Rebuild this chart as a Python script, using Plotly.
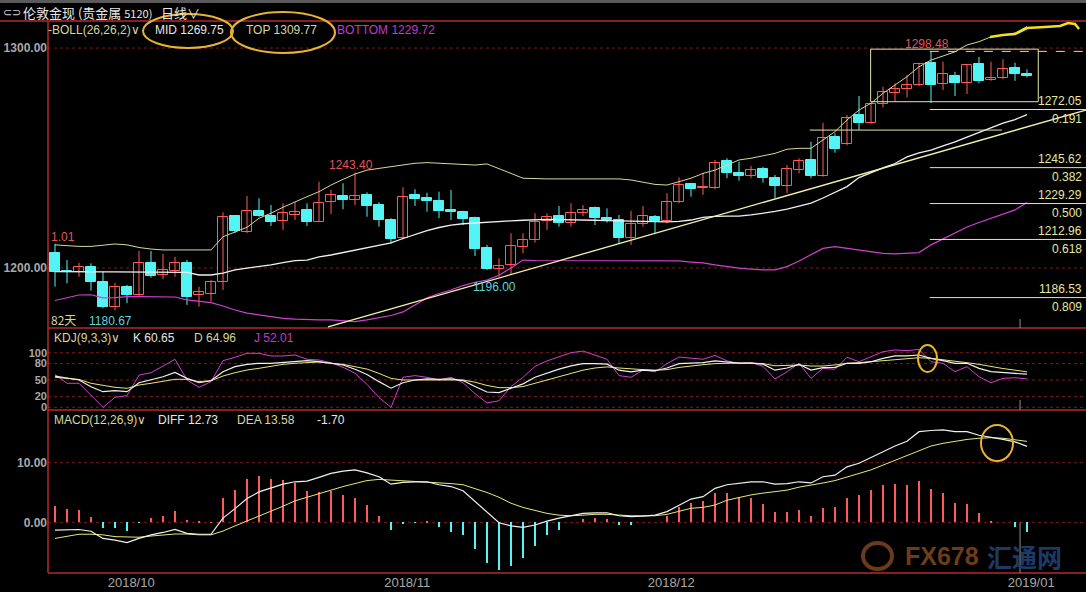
import plotly.graph_objects as go

# ---------------- data ----------------
open_ = [1206.7,1198.5,1198.3,1200.3,1193.5,1182.1,1191.5,1187.7,1202.1,1196.8,
         1198.8,1202.1,1187.7,1188.2,1193.5,1223.6,1216.5,1225.9,1223.8,1221.4,
         1224.1,1226.4,1220.8,1229.9,1232.7,1230.9,1233.2,1228.6,1221.8,1213.5,
         1233.2,1231.7,1230.6,1226.4,1225.6,1222.6,1209.2,1199.4,1201.4,1209.7,
         1212.7,1221.5,1223.6,1220.6,1224.9,1227.1,1222.9,1221.8,1213.8,1219.9,
         1223.3,1221.5,1230.1,1238.2,1236.5,1236.5,1248.6,1243.0,1241.8,1245.0,
         1240.8,1237.4,1244.5,1249.1,1242.0,1259.4,1256.2,1269.5,1265.8,1274.5,
         1279.4,1281.2,1283.2,1293.3,1283.5,1287.3,1284.0,1292.7,1285.5,1286.2,
         1290.8,1288.2]
high = [1211.0,1203.6,1202.4,1202.1,1198.3,1193.3,1192.3,1207.7,1207.7,1206.4,
        1205.1,1203.6,1191.5,1194.5,1225.3,1224.1,1232.7,1231.7,1228.6,1229.4,
        1230.1,1229.4,1239.2,1235.5,1238.5,1243.4,1234.4,1229.9,1222.6,1236.7,
        1235.8,1234.2,1234.7,1235.5,1226.0,1223.3,1210.5,1204.4,1215.8,1215.8,
        1224.9,1224.9,1228.2,1229.4,1228.6,1227.9,1227.1,1224.1,1226.0,1228.2,
        1224.1,1234.0,1241.2,1238.5,1243.3,1249.1,1249.9,1248.3,1246.4,1246.0,
        1242.3,1246.8,1249.9,1257.4,1266.0,1261.2,1269.5,1278.2,1274.9,1282.4,
        1283.9,1287.7,1293.3,1298.48,1293.8,1289.2,1292.3,1296.0,1293.8,1294.9,
        1293.3,1290.3]
low = [1191.5,1193.0,1196.0,1189.7,1181.7,1180.67,1184.0,1187.0,1195.6,1194.9,
       1196.0,1183.2,1182.4,1184.7,1190.0,1215.8,1215.8,1223.3,1219.1,1217.3,
       1221.8,1219.1,1220.8,1224.5,1226.7,1228.6,1223.3,1218.8,1211.2,1213.0,
       1228.2,1225.6,1222.6,1221.8,1219.5,1205.5,1199.1,1196.0,1196.8,1206.7,
       1211.5,1217.3,1218.8,1218.8,1223.6,1219.5,1220.6,1211.2,1210.5,1218.8,
       1215.8,1220.3,1229.4,1232.4,1233.2,1235.8,1240.8,1239.7,1240.8,1238.8,
       1231.7,1234.0,1243.0,1240.8,1241.5,1252.4,1255.8,1262.7,1265.5,1273.0,
       1275.6,1277.6,1282.7,1275.1,1280.9,1278.2,1279.1,1284.0,1285.1,1285.8,
       1285.1,1286.7]
close = [1198.3,1198.0,1200.6,1193.5,1182.1,1191.5,1187.7,1202.1,1196.4,1199.1,
         1202.1,1187.0,1189.0,1193.8,1223.3,1217.0,1225.9,1223.8,1221.0,1224.9,
         1225.6,1221.0,1229.4,1233.2,1230.9,1232.7,1228.2,1221.8,1213.2,1232.1,
         1231.4,1230.6,1226.0,1225.6,1222.3,1208.6,1199.5,1201.0,1210.1,1212.7,
         1221.0,1223.0,1220.6,1224.9,1226.4,1222.6,1221.8,1213.8,1220.0,1223.6,
         1221.4,1229.9,1237.7,1235.9,1236.9,1247.6,1243.3,1241.8,1244.5,1240.8,
         1237.4,1244.9,1248.6,1241.8,1259.0,1254.1,1268.0,1265.8,1274.5,1280.1,
         1281.4,1283.2,1292.7,1283.2,1288.2,1284.0,1292.3,1285.1,1286.2,1290.3,
         1288.0,1287.4]

boll_top = [1210.5,1210.0,1209.8,1209.8,1210.2,1210.9,1210.5,1209.3,1208.6,1208.2,
            1208.2,1208.2,1208.2,1208.2,1214.2,1216.5,1218.5,1222.6,1224.9,1227.6,
            1230.1,1232.4,1234.7,1237.7,1240.3,1242.7,1244.5,1245.3,1246.0,1246.8,
            1247.6,1247.9,1247.6,1247.3,1246.8,1246.8,1247.3,1245.3,1243.0,1240.8,
            1240.5,1240.5,1240.5,1240.5,1240.5,1240.5,1240.5,1240.5,1240.0,1239.0,
            1238.0,1237.7,1239.2,1240.8,1243.0,1244.5,1246.8,1249.1,1249.9,1251.0,
            1252.1,1254.0,1254.4,1254.4,1258.2,1262.0,1267.3,1271.8,1274.9,1279.4,
            1283.2,1287.0,1291.5,1294.5,1296.4,1298.3,1301.4,1302.9,1305.1,1305.9,
            1306.8,1309.77]
boll_mid = [1198.3,1198.2,1198.2,1198.2,1198.2,1198.2,1198.2,1198.2,1198.2,1198.2,
            1198.0,1198.0,1196.8,1196.8,1197.7,1199.1,1199.9,1200.6,1201.4,1202.4,
            1203.3,1203.6,1205.0,1205.9,1207.0,1208.0,1209.1,1210.2,1211.4,1213.4,
            1215.2,1217.0,1218.4,1219.5,1220.1,1220.5,1220.8,1221.1,1221.4,1221.7,
            1222.0,1222.1,1222.0,1222.0,1221.8,1221.7,1221.5,1221.4,1221.1,1220.9,
            1220.9,1221.0,1221.2,1221.8,1223.0,1223.5,1223.6,1223.6,1224.1,1224.8,
            1225.7,1226.8,1228.2,1229.5,1231.8,1234.5,1237.0,1241.1,1243.4,1245.5,
            1247.5,1250.5,1252.3,1253.6,1255.5,1257.3,1259.5,1261.6,1263.9,1265.9,
            1267.5,1269.75]
boll_bot = [1185.2,1186.6,1187.7,1187.8,1186.4,1186.5,1187.0,1187.0,1187.0,1187.0,
            1186.8,1185.5,1184.7,1184.2,1182.7,1180.9,1179.5,1178.6,1177.9,1177.1,
            1176.7,1176.4,1176.4,1176.4,1175.9,1175.6,1176.4,1177.5,1178.4,1180.0,
            1183.4,1186.4,1188.4,1190.0,1192.0,1193.5,1194.5,1196.7,1200.0,1203.6,
            1203.4,1203.4,1203.4,1203.4,1203.4,1203.4,1203.4,1203.4,1203.4,1203.4,
            1203.4,1203.4,1203.2,1202.7,1202.3,1201.4,1200.6,1199.9,1199.5,1199.1,
            1199.1,1200.6,1203.2,1206.1,1208.9,1209.7,1208.9,1208.0,1207.3,1206.6,
            1206.4,1206.6,1207.0,1210.5,1213.2,1215.9,1218.6,1220.7,1222.5,1224.3,
            1226.4,1229.72]

kdj_k = [57,53,50,37.7,28.6,30.4,28.6,45,50,56,64,53,45,48.7,65.2,74.4,78.7,80.6,80.6,82.4,
         84.8,85.4,83.5,80.6,77.5,69.6,60,47,35,45,50,52,51,52,49,38,28,27,35,43,
         55,63,70,76,80,80,79,68,65,68,67,72,80,81,82,85,83,81,81,79,
         68,72,78.7,68.3,72.5,73.3,80.6,80.6,83.5,89.7,94,94,95.8,89.7,85.4,80.6,80.6,71.4,65.2,63,
         62,60.65]
kdj_d = [55,53,51,44,40.8,36.6,34.8,40.8,44,47,51.3,51.3,47,48.7,57.3,63.4,68.3,71.4,75.6,78.7,
         80.6,82.4,83,80.6,78.7,74.4,70,62,53,50,50,51,51,51,50,46,40,36,36,38,
         44,50,57,63,68,72,74,72,70,69,68,69,73,76,78,80,81,81,81,80,
         76,76.5,77.5,75.6,75.6,77.5,80.6,81.7,83.5,85.4,87.9,89,90.8,89.7,86.6,83.5,81.7,78.7,74.4,71,
         68,64.96]
kdj_j = [60,44,44,22.5,0,18.3,21.3,59,63.4,75.6,88,50,36.6,47,85.4,91.6,98.9,98.9,94,94,
         95.8,88,86.6,81.7,73.3,62.3,42,18,0,55,58,55,50,55,45,25,8,12,38,55,
         75,85,92,100,103,95,88,58,55,68,65,80,92,90,88,95,85,80,82,75,
         52,65,80.6,53,71.4,69.6,91.6,83.5,92.7,101.8,105,103.7,106,83.5,80.6,65.2,74.4,56,45,53,
         54.2,52.01]

macd_diff = [-1.3,-1.25,-1.2,-1.5,-2.7,-3.0,-3.4,-2.7,-2.1,-1.7,-1.2,-1.85,-2.0,-2.0,0.7,2.3,4.0,5.1,5.7,6.4,
             6.8,6.9,7.55,8.2,8.6,8.8,8.3,7.65,6.4,6.7,6.8,6.8,6.3,6.0,5.3,3.5,1.8,-0.07,-0.6,-0.85,
             -0.45,0.2,0.7,1.1,1.5,1.6,1.6,1.1,0.95,1.05,1.2,1.8,2.9,3.9,4.3,5.7,6.3,6.5,6.8,6.8,
             6.4,6.5,6.8,6.6,7.65,7.9,9.3,9.9,10.9,11.85,12.8,13.6,15.2,15.4,15.5,15.2,15.2,14.6,14.3,13.9,
             13.5,12.73]
macd_dea = [-2.7,-2.3,-2.0,-2.0,-2.1,-2.4,-2.5,-2.5,-2.3,-2.1,-1.96,-1.96,-2.1,-2.1,-1.46,-0.6,0.2,1.06,1.9,2.7,
            3.6,4.2,4.9,5.4,6.0,6.5,7.0,7.2,7.1,6.9,6.85,6.8,6.65,6.5,6.3,5.7,5.0,4.2,3.2,2.5,
            2.06,1.5,1.2,1.1,1.2,1.34,1.34,1.2,1.1,1.1,1.1,1.34,1.8,2.35,2.5,2.9,3.7,4.2,4.6,4.9,
            5.1,5.4,5.9,6.2,6.6,7.0,7.65,8.2,8.8,9.6,10.45,11.3,12.1,12.8,13.25,13.6,13.9,14.1,14.2,14.1,
            13.9,13.58]
macd_hist = [2.7,2.2,2.1,0.95,-1.0,-1.0,-1.4,-0.1,0.7,1.1,1.9,0.4,0.1,0.05,4.0,5.5,7.3,7.8,7.3,7.1,
             6.6,5.3,5.1,5.3,4.6,4.1,2.9,1.06,-1.3,-0.2,-0.1,0.1,-0.7,-1.6,-2.1,-4.5,-6.9,-8.0,-7.3,-6.0,
             -4.0,-2.1,-1.3,0.0,0.55,0.65,0.5,-0.45,-0.45,0.0,0.0,1.06,2.5,3.3,3.6,5.0,5.0,4.3,4.0,3.1,
             1.8,1.8,2.0,1.1,2.45,2.6,4.1,4.5,5.4,6.3,6.4,6.3,7.0,5.6,4.9,3.3,3.0,1.5,0.1,0.0,
             -0.7,-1.7]

month_ticks = [6, 29, 51, 81]
month_labels = ["2018/10", "2018/11", "2018/12", "2019/01"]

fib_values = [1272.05, 1245.62, 1229.29, 1212.96, 1186.53]
fib_ratios = ["0.191", "0.382", "0.500", "0.618", "0.809"]
fib_top = 1298.48
trend_start = (22.75, 1173.2)
trend_end = (85.9, 1271.8)

# ---------------- styling ----------------
BG = "#000000"
UP = "#ff5a5a"
DN = "#54f4f4"
RED_LINE = "#b4282d"
GRID = "#7a1c1c"
PALE = "#e6e6a4"
WHITE = "#f0f0f0"
MAG = "#d040d0"
YEL = "#e8e878"
LBL = "#a8a8a8"
FONT = "Liberation Sans, Arial, sans-serif"
CJK = "Noto Sans CJK SC, sans-serif"

n = len(close)
idx = list(range(n))

fig = go.Figure()

# wicks
for col, cond in ((UP, True), (DN, False)):
    wx, wy = [], []
    for i in idx:
        if (close[i] >= open_[i]) == cond:
            wx += [i, i, None]
            wy += [low[i], high[i], None]
    fig.add_trace(go.Scatter(x=wx, y=wy, mode="lines", line=dict(color=col, width=1),
                             hoverinfo="skip", yaxis="y"))

# bodies
up_i = [i for i in idx if close[i] >= open_[i]]
dn_i = [i for i in idx if close[i] < open_[i]]
fig.add_trace(go.Bar(x=up_i, base=[min(open_[i], close[i]) for i in up_i],
                     y=[max(abs(close[i] - open_[i]), 0.3) for i in up_i],
                     width=0.8, marker=dict(color=BG, line=dict(color=UP, width=1)),
                     yaxis="y", hoverinfo="skip"))
fig.add_trace(go.Bar(x=dn_i, base=[min(open_[i], close[i]) for i in dn_i],
                     y=[max(abs(close[i] - open_[i]), 0.3) for i in dn_i],
                     width=0.8, marker=dict(color=DN, line=dict(color=DN, width=1)),
                     yaxis="y", hoverinfo="skip"))

# Bollinger bands
fig.add_trace(go.Scatter(x=idx, y=boll_top, mode="lines", line=dict(color="#d8d89a", width=1), yaxis="y"))
fig.add_trace(go.Scatter(x=idx, y=boll_mid, mode="lines", line=dict(color=WHITE, width=1.3), yaxis="y"))
fig.add_trace(go.Scatter(x=idx, y=boll_bot, mode="lines", line=dict(color=MAG, width=1.2), yaxis="y"))

# trend line
fig.add_trace(go.Scatter(x=[trend_start[0], trend_end[0]], y=[trend_start[1], trend_end[1]],
                         mode="lines", line=dict(color="#f4f4b0", width=1.3), yaxis="y"))

# KDJ
fig.add_trace(go.Scatter(x=idx, y=kdj_j, mode="lines", line=dict(color=MAG, width=1), yaxis="y2"))
fig.add_trace(go.Scatter(x=idx, y=kdj_d, mode="lines", line=dict(color=YEL, width=1), yaxis="y2"))
fig.add_trace(go.Scatter(x=idx, y=kdj_k, mode="lines", line=dict(color=WHITE, width=1.2), yaxis="y2"))

# MACD
fig.add_trace(go.Bar(x=idx, y=macd_hist, width=0.16,
                     marker=dict(color=[UP if v >= 0 else DN for v in macd_hist], line=dict(width=0)),
                     yaxis="y3", hoverinfo="skip"))
fig.add_trace(go.Scatter(x=idx, y=macd_dea, mode="lines", line=dict(color=YEL, width=1), yaxis="y3"))
fig.add_trace(go.Scatter(x=idx, y=macd_diff, mode="lines", line=dict(color=WHITE, width=1.2), yaxis="y3"))

# ---------------- layout ----------------
D_MAIN = [0.44384, 1.0]
D_KDJ = [0.29529, 0.44384]
D_MACD = [0.0, 0.29529]
XR = [-0.583, 85.917]

shapes = []
def pline(x0, y0, x1, y1, color, width=1, dash="solid", xref="paper", yref="paper"):
    shapes.append(dict(type="line", xref=xref, yref=yref, x0=x0, y0=y0, x1=x1, y1=y1,
                       line=dict(color=color, width=width, dash=dash), layer="below"))

# grids
for v in (1200, 1300):
    pline(0, v, 1, v, GRID, 1, "dot", "paper", "y")
for v in (0, 20, 50, 80, 100):
    pline(0, v, 1, v, GRID, 1, "dot", "paper", "y2")
for v in (0, 10):
    pline(0, v, 1, v, GRID, 1, "dot", "paper", "y3")

# panel borders
pline(-0.0462, 1, 1, 1, RED_LINE, 1.5)
for yy in (D_KDJ[1], D_MACD[1], 0):
    pline(0, yy, 1, yy, RED_LINE, 1.5)
pline(0, 0, 0, 1, RED_LINE, 1.5)
# top gray strip
shapes.append(dict(type="rect", xref="paper", yref="paper", x0=-0.0462, x1=1, y0=1.0326, y1=1.04,
                   fillcolor="#5a5a5a", line=dict(width=0), layer="below"))

# Fibonacci levels
fib_x0 = 72.9
for v in fib_values:
    shapes.append(dict(type="line", xref="x", yref="y", x0=fib_x0, x1=XR[1], y0=v, y1=v,
                       line=dict(color=PALE, width=1)))
shapes.append(dict(type="line", xref="x", yref="y", x0=fib_x0, x1=XR[1], y0=fib_top, y1=fib_top,
                   line=dict(color="#d8d8c8", width=1, dash="dash")))
# box around consolidation
shapes.append(dict(type="rect", xref="x", yref="y", x0=67.97, x1=81.94, y0=1275.6, y1=1299.5,
                   line=dict(color=PALE, width=1)))
# short horizontal line
shapes.append(dict(type="line", xref="x", yref="y", x0=62.9, x1=78.9, y0=1262.7, y1=1262.7,
                   line=dict(color=PALE, width=1)))

def px_x(p): return (p - 48) / 1038
def px_y(p): return (573 - p) / 552

# highlighted top band (hand drawn)
pts = [(990, 37), (1003, 35), (1015, 34), (1027, 28), (1045, 27), (1060, 26), (1068, 23), (1075, 24), (1079, 29)]
path = ""
for k, (px, py) in enumerate(pts):
    path += ("M" if k == 0 else "L") + f"{px_x(px):.4f},{px_y(py):.4f} "
shapes.append(dict(type="path", xref="paper", yref="paper", path=path,
                   line=dict(color="#f0e020", width=2.5)))

# gray markers at x=1020
mx = 80.42
shapes.append(dict(type="line", xref="x", yref="y", x0=mx, x1=mx, y0=1172.7, y1=1176.8, line=dict(color="#909090", width=1)))
shapes.append(dict(type="line", xref="x", yref="y2", x0=mx, x1=mx, y0=-4.9, y1=13.4, line=dict(color="#909090", width=1)))
shapes.append(dict(type="line", xref="x", yref="y3", x0=mx, x1=mx, y0=-8.5, y1=0.0, line=dict(color="#909090", width=1)))

# ellipses (hand drawn highlights)
GOLD = "#e8b232"
shapes.append(dict(type="circle", xref="paper", yref="paper", x0=px_x(143), x1=px_x(233), y0=px_y(48), y1=px_y(14),
                   line=dict(color=GOLD, width=2)))
shapes.append(dict(type="circle", xref="paper", yref="paper", x0=px_x(231), x1=px_x(335), y0=px_y(53), y1=px_y(12),
                   line=dict(color=GOLD, width=2)))
shapes.append(dict(type="circle", xref="paper", yref="paper", x0=px_x(918), x1=px_x(937), y0=px_y(372), y1=px_y(345),
                   line=dict(color=GOLD, width=2)))
shapes.append(dict(type="circle", xref="paper", yref="paper", x0=px_x(981), x1=px_x(1013), y0=px_y(461), y1=px_y(425),
                   line=dict(color=GOLD, width=2)))
# watermark logo
shapes.append(dict(type="circle", xref="paper", yref="paper", x0=px_x(863), x1=px_x(892), y0=px_y(569), y1=px_y(543),
                   line=dict(color="#6a3a1a", width=4)))

ann = []
def text(x, y, s, color, size=12, xref="paper", yref="paper", xanchor="left", yanchor="middle", family=FONT, bold=False):
    ann.append(dict(x=x, y=y, xref=xref, yref=yref, text=(f"<b>{s}</b>" if bold else s), showarrow=False,
                    xanchor=xanchor, yanchor=yanchor, font=dict(color=color, size=size, family=family),
                    borderpad=0))

# title bar
text(px_x(2), px_y(12), "⊂⊃", "#d0d0d0", 11)
text(px_x(22), px_y(12), "伦敦金现 (贵金属 <span style='font-size:11px'>5120)</span>", "#e8e8e8", 13, family=CJK)
text(px_x(160), px_y(12), "日线∨", "#e8e8e8", 13, family=CJK)

# headers
text(px_x(47), px_y(30), "-BOLL(26,26,2)∨", "#d6d6a0", 12)
text(px_x(154), px_y(30), "MID 1269.75", "#e6e6e6", 12)
text(px_x(245), px_y(30), "TOP 1309.77", "#d6d6a0", 12)
text(px_x(336), px_y(30), "BOTTOM 1229.72", "#c838c8", 12)

text(px_x(53), px_y(338), "KDJ(9,3,3)∨", "#d6d6a0", 12)
text(px_x(132), px_y(338), "K 60.65", "#e6e6e6", 12)
text(px_x(193), px_y(338), "D 64.96", "#d6d6a0", 12)
text(px_x(253), px_y(338), "J 52.01", "#c838c8", 12)

text(px_x(53), px_y(420), "MACD(12,26,9)∨", "#d6d6a0", 12)
text(px_x(157), px_y(420), "DIFF 12.73", "#e6e6e6", 12)
text(px_x(236), px_y(420), "DEA 13.58", "#d6d6a0", 12)
text(px_x(316), px_y(420), "-1.70", "#e6e6e6", 12)

# price labels on chart
text(-0.42, 1214.1, "1.01", "#e05555", 12, "x", "y")
text(22.75, 1246.8, "1243.40", "#e05555", 12, "x", "y")
text(70.75, 1301.8, "1298.48", "#e05555", 12, "x", "y")
text(34.75, 1191.4, "1196.00", "#5ed4dc", 12, "x", "y")
text(2.75, 1175.9, "1180.67", "#5ed4dc", 12, "x", "y")
text(-0.42, 1176.4, "82天", "#d6d6a0", 12, "x", "y", family=CJK)

# fib labels
for v, r in zip(fib_values, fib_ratios):
    text(0.997, v + 0.4, f"{v:.2f}", PALE, 12, "paper", "y", xanchor="right", yanchor="bottom")
    text(0.997, v - 0.6, r, PALE, 12, "paper", "y", xanchor="right", yanchor="top")

# watermark
text(px_x(904), px_y(556), "FX678", "#6e3c18", 25, bold=True)
text(px_x(986), px_y(556), "汇通网", "#1c3a66", 25, family=CJK, bold=True)

axis_common = dict(showgrid=False, zeroline=False, showline=False, ticks="", fixedrange=True)
tf = dict(color=LBL, size=12, family=FONT)

fig.update_layout(
    width=1086, height=592,
    paper_bgcolor=BG, plot_bgcolor=BG,
    margin=dict(l=48, r=0, t=21, b=19),
    showlegend=False, barmode="overlay", bargap=0,
    xaxis=dict(range=XR, anchor="y3", tickvals=[t + 0.35 for t in month_ticks], ticktext=month_labels,
               tickfont=dict(color=LBL, size=13, family=FONT), **axis_common),
    yaxis=dict(domain=D_MAIN, range=[1172.7, 1312.3], tickvals=[1200, 1300],
               ticktext=["<b>1200.00</b>", "<b>1300.00</b>"], tickfont=tf, **axis_common),
    yaxis2=dict(domain=D_KDJ, range=[-4.9, 145.2], tickvals=[0, 20, 50, 80, 100],
                ticktext=["<b>0</b>", "<b>20</b>", "<b>50</b>", "<b>80</b>", "<b>100</b>"],
                tickfont=dict(color=LBL, size=11, family=FONT), **axis_common),
    yaxis3=dict(domain=D_MACD, range=[-8.5, 18.84], tickvals=[0, 10],
                ticktext=["<b>0.00</b>", "<b>10.00</b>"], tickfont=tf, **axis_common),
    shapes=shapes, annotations=ann,
)

fig.write_html("out.html", config={"displayModeBar": False},
               post_script="document.body.style.margin='0';document.body.style.background='#000';")
